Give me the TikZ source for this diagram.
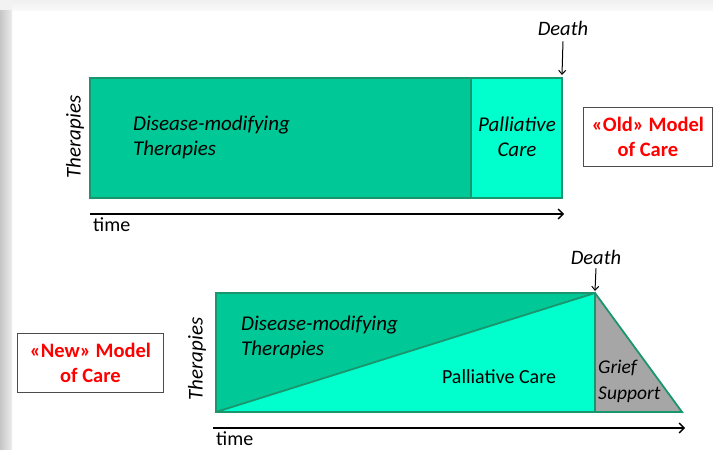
\documentclass[tikz,border=0pt]{standalone}
\usepackage{fontspec}
\setmainfont{Carlito}
\usetikzlibrary{arrows.meta}
\definecolor{dmt}{RGB}{0,200,150}
\definecolor{pal}{RGB}{0,255,204}
\definecolor{edge}{RGB}{25,150,110}
\definecolor{grief}{RGB}{166,166,166}
\definecolor{redlbl}{RGB}{255,0,0}
\tikzset{
  lbl/.style={font=\fontsize{21}{25}\selectfont\itshape, inner sep=0pt, align=left},
  axis/.style={line width=1.6pt, -{Straight Barb[length=5pt,width=10pt,line width=1.4pt]}},
  deatharrow/.style={line width=1pt, -{Straight Barb[length=4pt,width=7pt]}},
  deathlbl/.style={font=\fontsize{20.5}{24}\selectfont\itshape, inner sep=0pt},
  area/.style={draw=edge, line width=1.8pt, line join=miter},
  modelbox/.style={draw=black!70, line width=0.8pt, fill=white, minimum width=#1, minimum height=59pt, inner sep=0pt,
    font=\fontsize{20.5}{25}\selectfont\bfseries, text=redlbl, align=center},
  timelbl/.style={font=\fontsize{20}{24}\selectfont, inner sep=0pt, anchor=north west},
}
\begin{document}
\begin{tikzpicture}[x=1pt,y=-1pt]
\useasboundingbox (0,0) rectangle (713,450);
\fill[white] (0,0) rectangle (713,450);
% frame strips
\shade[left color=gray!45, right color=gray!15] (0,10) rectangle (12,450);
\shade[top color=gray!12, bottom color=gray!5] (12,0) rectangle (713,10);
\fill[gray!10] (0,0) rectangle (12,10);

% ---------- Old model ----------
\fill[dmt] (90,78) rectangle (471,198);
\fill[pal] (471,78) rectangle (562,198);
\draw[area] (90,78) rectangle (562,198);
\draw[edge, line width=1.8pt] (471,78) -- (471,198);
\coordinate (oldtop) at (562,75);
\node[deathlbl] (olddeath) at (563,28) {Death};
\draw[deatharrow] (olddeath.south) ++(0,6) coordinate (oda) -- (oldtop);
\node[lbl, anchor=west] (olddmt) at (133,137) {Disease-modifying\\Therapies};
\node[lbl, align=center] (oldpal) at (517,137) {Palliative\\Care};
\node[lbl, rotate=90] (oldther) at (75,137) {Therapies};
\coordinate (oldax0) at (90,214);
\coordinate (oldax1) at (564,214);
\draw[axis] (oldax0) -- (oldax1);
\node[timelbl] (oldtime) at (93,217) {time};
\node[modelbox=129pt, anchor=north west] (oldbox) at (583,107) {«Old» Model\\of Care};

% ---------- New model ----------
\fill[dmt] (216,293) -- (595,293) -- (216,412) -- cycle;
\fill[pal] (216,412) -- (595,293) -- (595,412) -- cycle;
\fill[grief] (595,293) -- (682,412) -- (595,412) -- cycle;
\draw[area] (216,412) -- (216,293) -- (595,293) -- (682,412) -- cycle;
\draw[edge, line width=1.8pt] (216,412) -- (595,293) -- (595,412);
\coordinate (newtop) at (595,291);
\node[deathlbl] (newdeath) at (596,257) {Death};
\draw[deatharrow] (newdeath.south) ++(0,4) coordinate (nda) -- (newtop);
\node[lbl, anchor=west] (newdmt) at (241,337) {Disease-modifying\\Therapies};
\node[font=\fontsize{20}{24}\selectfont, inner sep=0pt] (newpal) at (499,377) {Palliative Care};
\node[font=\fontsize{19.5}{26}\selectfont\itshape, inner sep=0pt, align=left, anchor=west] (newgrief) at (598,381) {Grief\\Support};
\node[lbl, rotate=90] (newther) at (197,359) {Therapies};
\coordinate (newax0) at (213,428);
\coordinate (newax1) at (685,428);
\draw[axis] (newax0) -- (newax1);
\node[timelbl] (newtime) at (216,431) {time};
\node[modelbox=146pt, anchor=north west] (newbox) at (17,333) {«New» Model\\of Care};
\end{tikzpicture}
\end{document}
